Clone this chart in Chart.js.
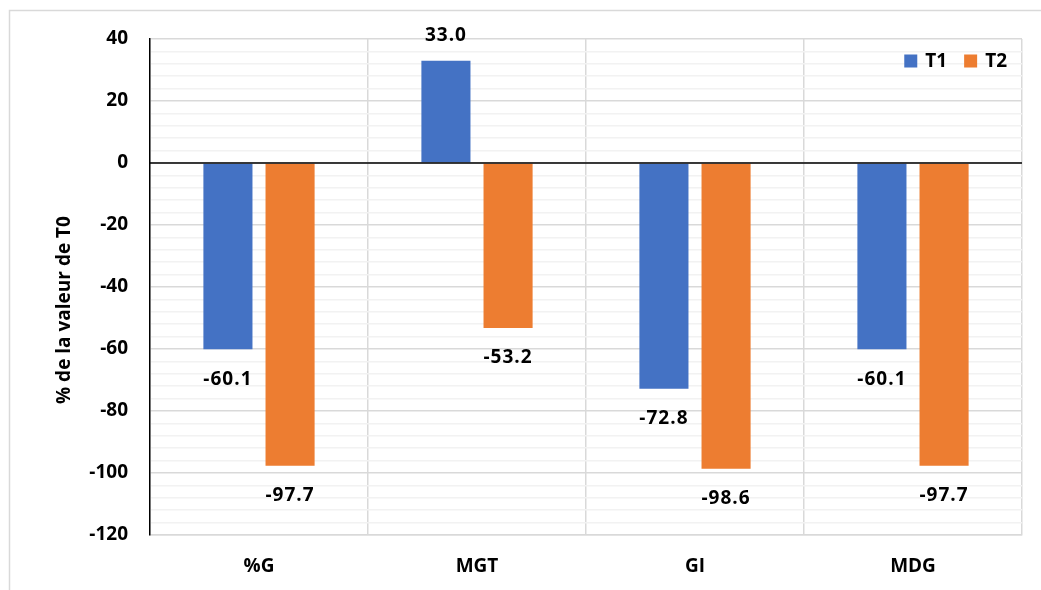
<!DOCTYPE html>
<html>
<head>
<meta charset="utf-8">
<script src="https://cdn.jsdelivr.net/npm/chart.js@4"></script>
<style>
  html, body { margin: 0; padding: 0; background: #fff; overflow: hidden; }
  #wrap { width: 1041px; height: 590px; position: relative; }
</style>
</head>
<body>
<div id="wrap"><canvas id="c" width="1041" height="590"></canvas></div>
<script>
// Categories and series (percentage of the T0 value)
const categories = ['%G', 'MGT', 'GI', 'MDG'];
const t1Values = [-60.1, 33.0, -72.8, -60.1];
const t2Values = [-97.7, -53.2, -98.6, -97.7];
const seriesNames = ['T1', 'T2'];
const yMin = -120, yMax = 40, yStep = 4, yLabelStep = 20;
const yTitle = '% de la valeur de T0';

const FONT = '"Open Sans", "Noto Sans", "DejaVu Sans", sans-serif';
const FSIZE = 19;
const BLUE = '#4472C4';
const ORANGE = '#ED7D31';

// White background and light frame around the whole chart
const framePlugin = {
  id: 'frame',
  beforeDraw(chart) {
    const ctx = chart.ctx;
    ctx.save();
    ctx.fillStyle = '#fff';
    ctx.fillRect(0, 0, chart.width, chart.height);
    ctx.strokeStyle = '#d9d9d9';
    ctx.lineWidth = 1.5;
    ctx.strokeRect(9.5, 10.5, chart.width + 50, chart.height + 50);
    ctx.restore();
  }
};

// Value labels at the outer end of each bar
const valueLabels = {
  id: 'valueLabels',
  afterDatasetsDraw(chart) {
    const ctx = chart.ctx;
    ctx.save();
    ctx.font = 'bold ' + FSIZE + 'px ' + FONT;
    if ('letterSpacing' in ctx) ctx.letterSpacing = '1px';
    ctx.fillStyle = '#000';
    ctx.textAlign = 'center';
    ctx.textBaseline = 'middle';
    chart.data.datasets.forEach((ds, di) => {
      const meta = chart.getDatasetMeta(di);
      meta.data.forEach((bar, i) => {
        const v = ds.data[i];
        const y = v >= 0 ? bar.y - 25 : bar.y + 30;
        ctx.fillText(v.toFixed(1), bar.x, y);
      });
    });
    ctx.restore();
  }
};

// Zero line over the bars, rotated axis title, and legend inside the plot (top right)
const overlay = {
  id: 'overlay',
  afterDraw(chart) {
    const ctx = chart.ctx;
    const area = chart.chartArea;
    const y0 = chart.scales.y.getPixelForValue(0);
    ctx.save();
    ctx.strokeStyle = '#000';
    ctx.lineWidth = 1.5;
    ctx.beginPath();
    ctx.moveTo(area.left, y0);
    ctx.lineTo(area.right, y0);
    ctx.stroke();

    ctx.font = 'bold ' + FSIZE + 'px ' + FONT;
    ctx.fillStyle = '#000';

    // y-axis title
    ctx.save();
    ctx.translate(65, (area.top + area.bottom) / 2 + 23);
    ctx.rotate(-Math.PI / 2);
    ctx.textAlign = 'center';
    ctx.textBaseline = 'middle';
    ctx.fillText(yTitle, 0, 0);
    ctx.restore();

    // legend
    ctx.textBaseline = 'middle';
    ctx.textAlign = 'left';
    const box = 13, gapBoxText = 8, gapItems = 17;
    const items = chart.data.datasets.map(d => ({ label: d.label, color: d.backgroundColor }));
    let total = 0;
    items.forEach((it, k) => {
      it.w = ctx.measureText(it.label).width;
      total += box + gapBoxText + it.w + (k ? gapItems : 0);
    });
    let x = area.right - 15 - total;
    const cy = area.top + 22;
    items.forEach((it, k) => {
      if (k) x += gapItems;
      ctx.fillStyle = it.color;
      ctx.fillRect(x, cy - box / 2, box, box);
      x += box + gapBoxText;
      ctx.fillStyle = '#000';
      ctx.fillText(it.label, x, cy + 1);
      x += it.w;
    });
    ctx.restore();
  }
};

new Chart(document.getElementById('c'), {
  type: 'bar',
  data: {
    labels: categories,
    datasets: [
      { label: seriesNames[0], data: t1Values, backgroundColor: BLUE },
      { label: seriesNames[1], data: t2Values, backgroundColor: ORANGE }
    ]
  },
  plugins: [framePlugin, valueLabels, overlay],
  options: {
    responsive: false,
    animation: false,
    devicePixelRatio: 1,
    layout: { padding: { top: 39, right: 19, left: 0, bottom: 0 } },
    datasets: { bar: { categoryPercentage: 0.57, barPercentage: 0.79 } },
    plugins: { legend: { display: false }, tooltip: { enabled: false } },
    scales: {
      x: {
        grid: { color: '#d9d9d9', lineWidth: 1.5, drawTicks: false, offset: true },
        border: { color: '#d9d9d9', width: 1.5 },
        ticks: { color: '#000', font: { family: FONT, size: FSIZE, weight: 'bold' }, padding: 20 },
        afterFit(scale) { scale.height = 55; }
      },
      y: {
        min: yMin, max: yMax,
        grid: {
          drawTicks: false,
          color: (c) => (c.tick.value % yLabelStep === 0 ? '#d9d9d9' : '#f2f2f2'),
          lineWidth: 1.5
        },
        border: { color: '#000', width: 1.5 },
        ticks: {
          stepSize: yStep,
          autoSkip: false,
          color: '#000',
          padding: 22,
          font: { family: FONT, size: FSIZE, weight: 'bold' },
          callback: (v) => (v % yLabelStep === 0 ? String(v) : '')
        },
        title: { display: false },
        afterFit(scale) { scale.width = 150; }
      }
    }
  }
});
</script>
</body>
</html>
